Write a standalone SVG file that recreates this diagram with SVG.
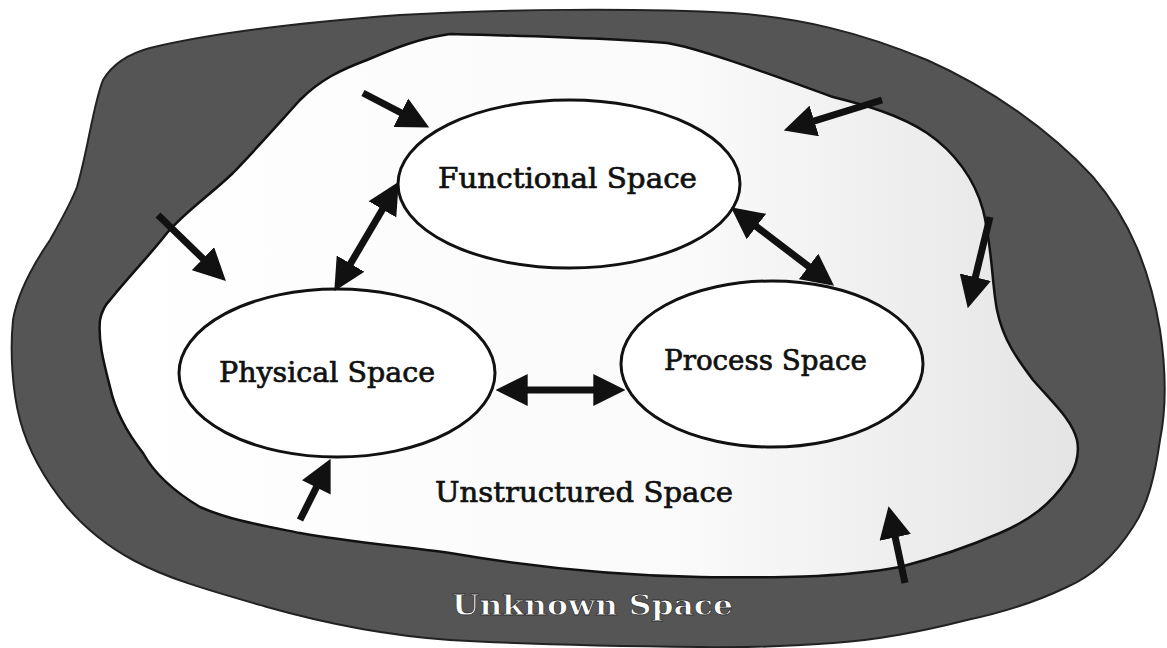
<svg xmlns="http://www.w3.org/2000/svg" width="1167" height="648" viewBox="0 0 1167 648">
<style>
.lbl{font-family:"DejaVu Serif","Liberation Serif",serif;font-size:28px;fill:#111;stroke:#111;stroke-width:0.7;}
.unk{font-family:"DejaVu Serif","Liberation Serif",serif;font-size:28px;font-weight:bold;fill:#fff;stroke:#333;stroke-width:0.8;}
.node{fill:#fff;stroke:#111;stroke-width:3;}
.arr{stroke:#111;stroke-width:7;fill:none;}
</style>
<defs>
<marker id="head" viewBox="0 0 30 30" refX="10" refY="15" markerWidth="32" markerHeight="32" markerUnits="userSpaceOnUse" orient="auto-start-reverse">
<path d="M0,0 L30,15 L0,30 Z" fill="#111"/>
</marker>
<linearGradient id="inner" x1="0" y1="0" x2="1" y2="0">
<stop offset="0" stop-color="#ffffff"/>
<stop offset="0.6" stop-color="#fafafa"/>
<stop offset="1" stop-color="#e4e4e4"/>
</linearGradient>
</defs>
<g id="unknown-space">
<path d="M103,80 C115,60 135,52 150,48 C200,36 280,24 400,15 C500,9 640,8 733,13 C800,18 860,32 927,60 C990,88 1050,130 1093,177 C1130,220 1150,270 1160,330 C1166,370 1166,410 1160,440 C1155,475 1148,505 1133,527 C1115,555 1095,575 1067,587 C1040,600 1005,612 967,620 C920,632 880,640 833,643 C790,646 745,648 700,647 C600,646 520,644 450,640 C380,635 320,622 267,607 C215,592 170,580 133,560 C105,545 85,528 67,507 C45,480 28,450 20,420 C12,390 10,350 13,320 C18,290 35,262 50,240 C60,222 70,205 77,187 C88,150 93,105 103,80 Z" fill="#555" stroke="#222" stroke-width="2"/>
<text class="unk" x="452" y="615" textLength="281" lengthAdjust="spacingAndGlyphs">Unknown Space</text>
</g>
<g id="unstructured-space">
<path d="M450,34 C530,36 610,38 667,43 C700,48 780,78 833,97 C865,105 900,115 927,133 C955,152 975,180 983,210 C992,245 992,285 997,310 C1003,340 1018,360 1033,380 C1055,405 1072,420 1077,440 C1080,455 1075,470 1067,480 C1050,505 1030,520 1000,533 C970,546 935,558 900,567 C840,578 770,578 700,577 C600,575 520,565 450,553 C400,546 350,542 300,533 C260,525 230,520 200,507 C175,492 155,475 143,453 C125,430 115,410 110,387 C103,360 98,340 100,320 C102,310 105,305 110,300 C130,275 150,255 167,233 C185,212 210,195 233,173 C260,145 280,122 300,100 C320,80 340,70 367,60 C395,48 420,38 450,34 Z" fill="url(#inner)" stroke="#111" stroke-width="2.5"/>
<text class="lbl" x="435" y="502" textLength="298" lengthAdjust="spacingAndGlyphs">Unstructured Space</text>
</g>
<g id="functional-space">
<ellipse class="node" cx="569" cy="184" rx="171" ry="84"/>
<text class="lbl" x="438" y="188" textLength="259" lengthAdjust="spacingAndGlyphs">Functional Space</text>
</g>
<g id="physical-space">
<ellipse class="node" cx="337" cy="373" rx="158" ry="84"/>
<text class="lbl" x="219" y="382" textLength="216" lengthAdjust="spacingAndGlyphs">Physical Space</text>
</g>
<g id="process-space">
<ellipse class="node" cx="772" cy="364" rx="151" ry="83"/>
<text class="lbl" x="664" y="370" textLength="203" lengthAdjust="spacingAndGlyphs">Process Space</text>
</g>
<g id="connectors">
<line class="arr" x1="345.1" y1="272.8" x2="387.9" y2="200.2" marker-start="url(#head)" marker-end="url(#head)"/>
<line class="arr" x1="747.9" y1="220.1" x2="817.1" y2="272.9" marker-start="url(#head)" marker-end="url(#head)"/>
<line class="arr" x1="517" y1="390" x2="604" y2="390" marker-start="url(#head)" marker-end="url(#head)"/>
<line class="arr" x1="363" y1="93" x2="410.3" y2="117.7" marker-end="url(#head)"/>
<line class="arr" x1="882" y1="100" x2="804.1" y2="124.1" marker-end="url(#head)"/>
<line class="arr" x1="158" y1="215" x2="210.6" y2="266.1" marker-end="url(#head)"/>
<line class="arr" x1="990" y1="217" x2="972.8" y2="287.6" marker-end="url(#head)"/>
<line class="arr" x1="300" y1="520" x2="321.1" y2="477.9" marker-end="url(#head)"/>
<line class="arr" x1="905" y1="583" x2="893" y2="527" marker-end="url(#head)"/>
</g>
</svg>
